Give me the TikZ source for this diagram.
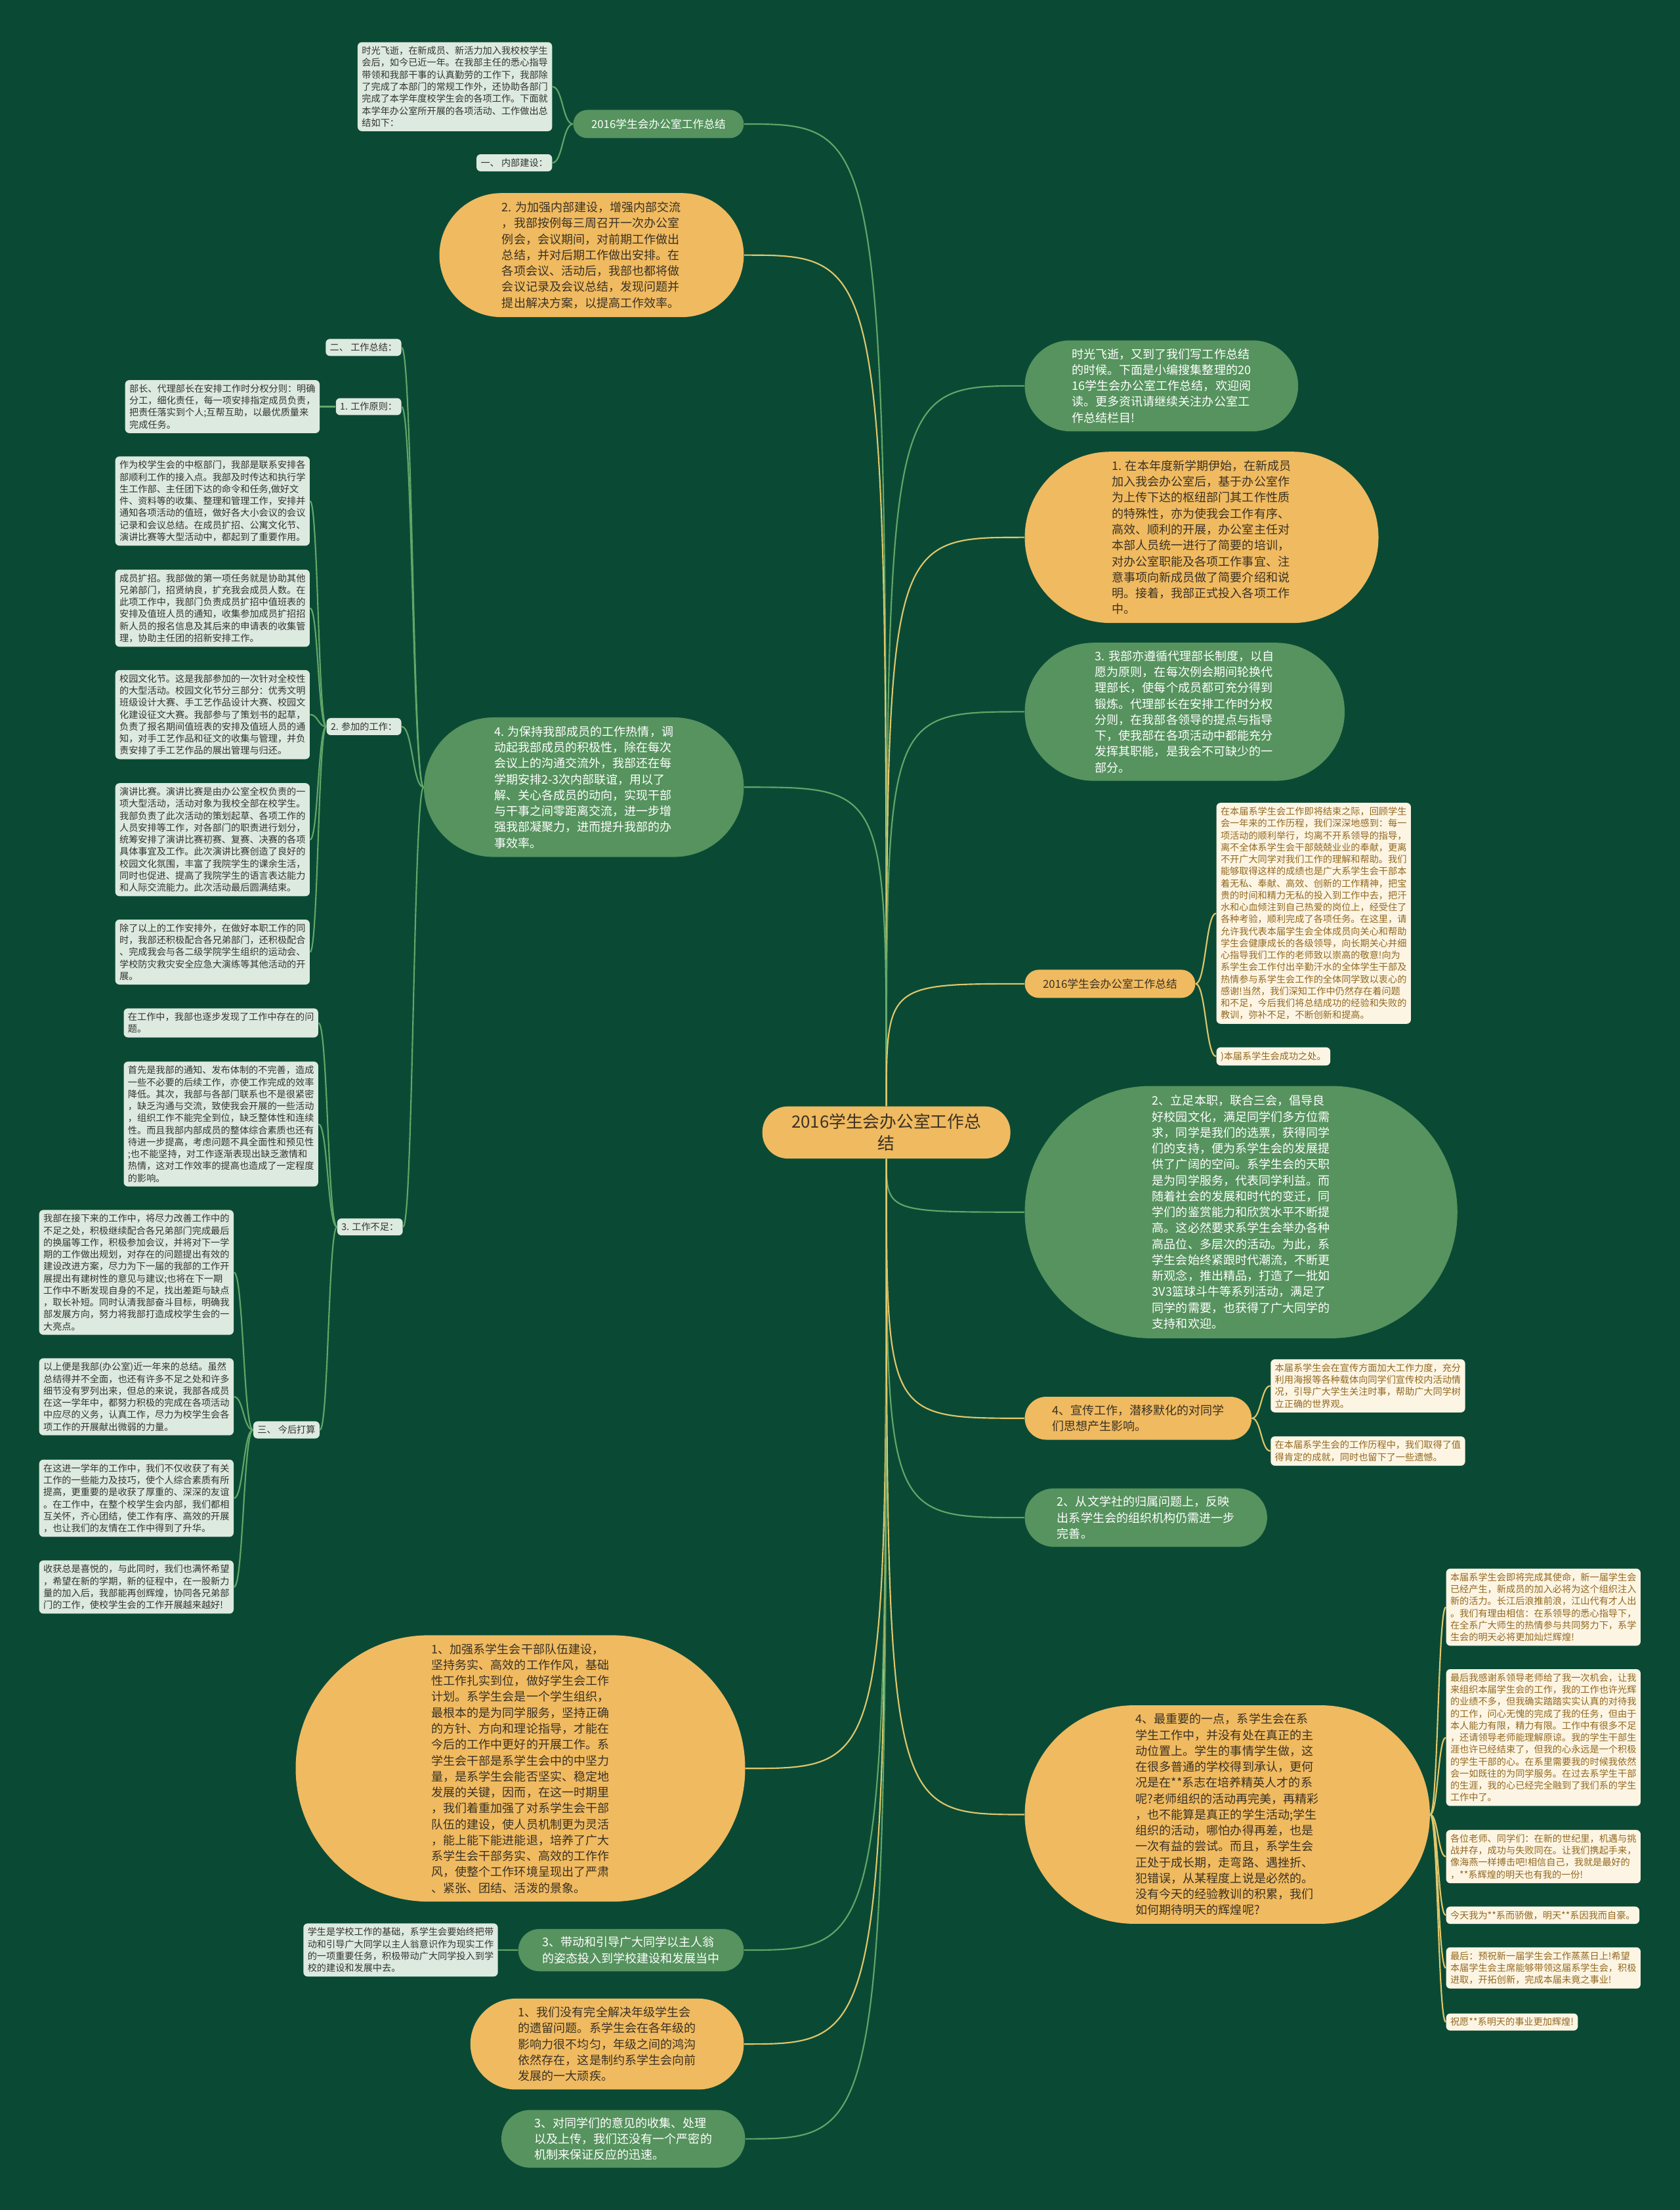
\documentclass[tikz,border=0pt]{standalone}
\usepackage{fontspec}
\setmainfont{Noto Sans CJK SC}
\usetikzlibrary{shapes.misc,calc}
\definecolor{bgcol}{RGB}{10,74,53}
\definecolor{nodeorange}{RGB}{240,186,96}
\definecolor{nodegreen}{RGB}{86,147,94}
\definecolor{orangetext}{RGB}{58,50,36}
\definecolor{mintfill}{RGB}{221,234,223}
\definecolor{minttext}{RGB}{51,51,51}
\definecolor{creamfill}{RGB}{253,245,228}
\definecolor{creamtext}{RGB}{146,104,32}
\definecolor{glinecol}{RGB}{98,166,104}
\definecolor{ylinecol}{RGB}{224,198,106}
\newcommand{\mmboxfont}{\fontsize{6.6pt}{8.5pt}\selectfont}
\newcommand{\mmbubblefont}{\fontsize{8.4pt}{11.3pt}\selectfont}
\newcommand{\mmtitlefont}{\fontsize{7.8pt}{10pt}\selectfont}
\newcommand{\mmrootfont}{\fontsize{12pt}{15.5pt}\selectfont}

\begin{document}
\begin{tikzpicture}[x=1pt, y=-1pt,
    bubble/.style={rounded rectangle, inner sep=1pt, align=left, font=\mmbubblefont},
    obubble/.style={bubble, fill=nodeorange, text=orangetext},
    gbubble/.style={bubble, fill=nodegreen, text=white},
    root/.style={rectangle, rounded corners=18pt, fill=nodeorange, text=orangetext,
        minimum width=176pt, minimum height=37pt, align=center, font=\mmrootfont},
    mintbox/.style={rectangle, rounded corners=3pt, fill=mintfill, text=minttext,
        inner sep=3pt, align=left, font=\mmboxfont},
    creambox/.style={mintbox, fill=creamfill, text=creamtext},
    gline/.style={draw=glinecol, line width=1pt},
    yline/.style={draw=ylinecol, line width=1pt},
    mainlink/.style={to path={let \p1=(\tikztostart), \p2=(\tikztotarget) in
        .. controls (\x1,\y2) .. (\tikztotarget)}},
    sublink/.style={to path={let \p1=(\tikztostart), \p2=(\tikztotarget) in
        .. controls ({0.5*\x1+0.5*\x2},\y1) and ({0.5*\x1+0.5*\x2},\y2) .. (\tikztotarget)}}
]
    \fill[bgcol] (0,0) rectangle (1192,1568);

    \node[root] (root) at (629,803.5) {2016学生会办公室工作总\\结};

    % left side
    \node[gbubble, font=\mmtitlefont, minimum width=123pt, minimum height=20pt, anchor=east] (ltitle) at (528,88) {2016学生会办公室工作总结};
    \node[mintbox, anchor=east] (lintro) at (392,61.5) {时光飞逝，在新成员、新活力加入我校校学生\\会后，如今已近一年。在我部主任的悉心指导\\带领和我部干事的认真勤劳的工作下，我部除\\了完成了本部门的常规工作外，还协助各部门\\完成了本学年度校学生会的各项工作。下面就\\本学年办公室所开展的各项活动、工作做出总\\结如下：};
    \node[mintbox, anchor=east] (linner) at (392,115.5) {一、 内部建设：};

    \node[obubble, minimum width=218pt, minimum height=88pt, anchor=east] (lmeet) at (528,181) {2. 为加强内部建设，增强内部交流\\，我部按例每三周召开一次办公室\\例会，会议期间，对前期工作做出\\总结，并对后期工作做出安排。在\\各项会议、活动后，我部也都将做\\会议记录及会议总结，发现问题并\\提出解决方案，以提高工作效率。};

    \node[gbubble, minimum width=229pt, minimum height=99pt, anchor=east] (lkeep) at (528,558.5) {4. 为保持我部成员的工作热情，调\\动起我部成员的积极性，除在每次\\会议上的沟通交流外，我部还在每\\学期安排2-3次内部联谊，用以了\\解、关心各成员的动向，实现干部\\与干事之间零距离交流，进一步增\\强我部凝聚力，进而提升我部的办\\事效率。};

    \node[mintbox, anchor=east] (lsum) at (285,246.5) {二、 工作总结：};
    \node[mintbox, anchor=east] (lprin) at (285,288.5) {1. 工作原则：};
    \node[mintbox, anchor=east] (lprintext) at (227,288.5) {部长、代理部长在安排工作时分权分则：明确\\分工，细化责任，每一项安排指定成员负责，\\把责任落实到个人;互帮互助，以最优质量来\\完成任务。};

    \node[mintbox, anchor=east] (ljoin) at (285,515.5) {2. 参加的工作：};
    \node[mintbox, anchor=east] (ljoina) at (220,355.5) {作为校学生会的中枢部门，我部是联系安排各\\部顺利工作的接入点。我部及时传达和执行学\\生工作部、主任团下达的命令和任务,做好文\\件、资料等的收集、整理和管理工作，安排并\\通知各项活动的值班，做好各大小会议的会议\\记录和会议总结。在成员扩招、公寓文化节、\\演讲比赛等大型活动中，都起到了重要作用。};
    \node[mintbox, anchor=east] (ljoinb) at (220,431.5) {成员扩招。我部做的第一项任务就是协助其他\\兄弟部门，招贤纳良，扩充我会成员人数。在\\此项工作中，我部门负责成员扩招中值班表的\\安排及值班人员的通知，收集参加成员扩招招\\新人员的报名信息及其后来的申请表的收集管\\理，协助主任团的招新安排工作。};
    \node[mintbox, anchor=east] (ljoinc) at (220,507) {校园文化节。这是我部参加的一次针对全校性\\的大型活动。校园文化节分三部分：优秀文明\\班级设计大赛、手工艺作品设计大赛、校园文\\化建设征文大赛。我部参与了策划书的起草，\\负责了报名期间值班表的安排及值班人员的通\\知，对手工艺作品和征文的收集与管理，并负\\责安排了手工艺作品的展出管理与归还。};
    \node[mintbox, anchor=east] (ljoind) at (220,595.75) {演讲比赛。演讲比赛是由办公室全权负责的一\\项大型活动，活动对象为我校全部在校学生。\\我部负责了此次活动的策划起草、各项工作的\\人员安排等工作，对各部门的职责进行划分，\\统筹安排了演讲比赛初赛、复赛、决赛的各项\\具体事宜及工作。此次演讲比赛创造了良好的\\校园文化氛围，丰富了我院学生的课余生活，\\同时也促进、提高了我院学生的语言表达能力\\和人际交流能力。此次活动最后圆满结束。};
    \node[mintbox, anchor=east] (ljoine) at (220,675.5) {除了以上的工作安排外，在做好本职工作的同\\时，我部还积极配合各兄弟部门，还积极配合\\、完成我会与各二级学院学生组织的运动会、\\学校防灾救灾安全应急大演练等其他活动的开\\展。};

    \node[mintbox, anchor=east] (lshort) at (286,870.5) {3. 工作不足：};
    \node[mintbox, anchor=east] (lshorta) at (226,725.75) {在工作中，我部也逐步发现了工作中存在的问\\题。};
    \node[mintbox, anchor=east] (lshortb) at (226,797.5) {首先是我部的通知、发布体制的不完善，造成\\一些不必要的后续工作，亦使工作完成的效率\\降低。其次，我部与各部门联系也不是很紧密\\，缺乏沟通与交流，致使我会开展的一些活动\\，组织工作不能完全到位，缺乏整体性和连续\\性。而且我部内部成员的整体综合素质也还有\\待进一步提高，考虑问题不具全面性和预见性\\;也不能坚持，对工作逐渐表现出缺乏激情和\\热情，这对工作效率的提高也造成了一定程度\\的影响。};
    \node[mintbox, anchor=east] (lplan) at (227,1014.5) {三、 今后打算};
    \node[mintbox, anchor=east] (lplana) at (166,902.75) {我部在接下来的工作中，将尽力改善工作中的\\不足之处，积极继续配合各兄弟部门完成最后\\的换届等工作，积极参加会议，并将对下一学\\期的工作做出规划，对存在的问题提出有效的\\建设改进方案，尽力为下一届的我部的工作开\\展提出有建树性的意见与建议;也将在下一期\\工作中不断发现自身的不足，找出差距与缺点\\，取长补短。同时认清我部奋斗目标，明确我\\部发展方向，努力将我部打造成校学生会的一\\大亮点。};
    \node[mintbox, anchor=east] (lplanb) at (166,991) {以上便是我部(办公室)近一年来的总结。虽然\\总结得并不全面，也还有许多不足之处和许多\\细节没有罗列出来，但总的来说，我部各成员\\在这一学年中，都努力积极的完成在各项活动\\中应尽的义务，认真工作，尽力为校学生会各\\项工作的开展献出微弱的力量。};
    \node[mintbox, anchor=east] (lplanc) at (166,1063) {在这进一学年的工作中，我们不仅收获了有关\\工作的一些能力及技巧，使个人综合素质有所\\提高，更重要的是收获了厚重的、深深的友谊\\。在工作中，在整个校学生会内部，我们都相\\互关怀，齐心团结，使工作有序、高效的开展\\，也让我们的友情在工作中得到了升华。};
    \node[mintbox, anchor=east] (lpland) at (166,1126) {收获总是喜悦的，与此同时，我们也满怀希望\\，希望在新的学期，新的征程中，在一股新力\\量的加入后，我部能再创辉煌，协同各兄弟部\\门的工作，使校学生会的工作开展越来越好!};

    \node[obubble, minimum width=321pt, minimum height=189pt, anchor=east] (lteam) at (529,1254.7) {1、加强系学生会干部队伍建设，\\坚持务实、高效的工作作风，基础\\性工作扎实到位，做好学生会工作\\计划。系学生会是一个学生组织，\\最根本的是为同学服务，坚持正确\\的方针、方向和理论指导，才能在\\今后的工作中更好的开展工作。系\\学生会干部是系学生会中的中坚力\\量，是系学生会能否坚实、稳定地\\发展的关键，因而，在这一时期里\\，我们着重加强了对系学生会干部\\队伍的建设，使人员机制更为灵活\\，能上能下能进能退，培养了广大\\系学生会干部务实、高效的工作作\\风，使整个工作环境呈现出了严肃\\、紧张、团结、活泼的景象。};
    \node[gbubble, minimum width=162pt, minimum height=30pt, anchor=east] (llead) at (528,1383.6) {3、带动和引导广大同学以主人翁\\的姿态投入到学校建设和发展当中};
    \node[mintbox, anchor=east] (lleadtext) at (353.5,1383.5) {学生是学校工作的基础，系学生会要始终把带\\动和引导广大同学以主人翁意识作为现实工作\\的一项重要任务，积极带动广大同学投入到学\\校的建设和发展中去。};
    \node[obubble, minimum width=196pt, minimum height=64.5pt, anchor=east] (lgrade) at (528,1450.25) {1、我们没有完全解决年级学生会\\的遗留问题。系学生会在各年级的\\影响力很不均匀，年级之间的鸿沟\\依然存在，这是制约系学生会向前\\发展的一大顽疾。};
    \node[gbubble, minimum width=175pt, minimum height=41pt, anchor=east] (lopinion) at (529,1517.5) {3、对同学们的意见的收集、处理\\以及上传，我们还没有一个严密的\\机制来保证反应的迅速。};

    % right side
    \node[gbubble, minimum width=196pt, minimum height=64.5pt, anchor=west] (rintro) at (727,273.75) {时光飞逝，又到了我们写工作总结\\的时候。下面是小编搜集整理的20\\16学生会办公室工作总结，欢迎阅\\读。更多资讯请继续关注办公室工\\作总结栏目!};
    \node[obubble, minimum width=253pt, minimum height=121.5pt, anchor=west] (rtrain) at (727,381.25) {1. 在本年度新学期伊始，在新成员\\加入我会办公室后，基于办公室作\\为上传下达的枢纽部门其工作性质\\的特殊性，亦为使我会工作有序、\\高效、顺利的开展，办公室主任对\\本部人员统一进行了简要的培训，\\对办公室职能及各项工作事宜、注\\意事项向新成员做了简要介绍和说\\明。接着，我部正式投入各项工作\\中。};
    \node[gbubble, minimum width=229pt, minimum height=98pt, anchor=west] (rdeputy) at (727,505) {3. 我部亦遵循代理部长制度，以自\\愿为原则，在每次例会期间轮换代\\理部长，使每个成员都可充分得到\\锻炼。代理部长在安排工作时分权\\分则，在我部各领导的提点与指导\\下，使我部在各项活动中都能充分\\发挥其职能，是我会不可缺少的一\\部分。};

    \node[obubble, font=\mmtitlefont, minimum width=123pt, minimum height=20pt, anchor=west] (rtitle) at (727,698) {2016学生会办公室工作总结};
    \node[creambox, anchor=west] (rtitlea) at (863,648) {在本届系学生会工作即将结束之际，回顾学生\\会一年来的工作历程，我们深深地感到：每一\\项活动的顺利举行，均离不开系领导的指导，\\离不全体系学生会干部兢兢业业的奉献，更离\\不开广大同学对我们工作的理解和帮助。我们\\能够取得这样的成绩也是广大系学生会干部本\\着无私、奉献、高效、创新的工作精神，把宝\\贵的时间和精力无私的投入到工作中去，把汗\\水和心血倾注到自己热爱的岗位上，经受住了\\各种考验，顺利完成了各项任务。在这里，请\\允许我代表本届学生会全体成员向关心和帮助\\学生会健康成长的各级领导，向长期关心并细\\心指导我们工作的老师致以崇高的敬意!向为\\系学生会工作付出辛勤汗水的全体学生干部及\\热情参与系学生会工作的全体同学致以衷心的\\感谢!当然，我们深知工作中仍然存在着问题\\和不足，今后我们将总结成功的经验和失败的\\教训，弥补不足，不断创新和提高。};
    \node[creambox, anchor=west] (rtitleb) at (863,749.5) {)本届系学生会成功之处。};

    \node[gbubble, minimum width=309pt, minimum height=179pt, anchor=west] (rserve) at (727,860) {2、立足本职，联合三会，倡导良\\好校园文化，满足同学们多方位需\\求，同学是我们的选票，获得同学\\们的支持，便为系学生会的发展提\\供了广阔的空间。系学生会的天职\\是为同学服务，代表同学利益。而\\随着社会的发展和时代的变迁，同\\学们的鉴赏能力和欣赏水平不断提\\高。这必然要求系学生会举办各种\\高品位、多层次的活动。为此，系\\学生会始终紧跟时代潮流，不断更\\新观念，推出精品，打造了一批如\\3V3篮球斗牛等系列活动，满足了\\同学的需要，也获得了广大同学的\\支持和欢迎。};

    \node[obubble, minimum width=163pt, minimum height=30.5pt, anchor=west] (rpromo) at (727,1006.25) {4、宣传工作，潜移默化的对同学\\们思想产生影响。};
    \node[creambox, anchor=west] (rpromoa) at (901.5,983.25) {本届系学生会在宣传方面加大工作力度，充分\\利用海报等各种载体向同学们宣传校内活动情\\况，引导广大学生关注时事，帮助广大同学树\\立正确的世界观。};
    \node[creambox, anchor=west] (rpromob) at (901.5,1029.5) {在本届系学生会的工作历程中，我们取得了值\\得肯定的成就，同时也留下了一些遗憾。};

    \node[gbubble, minimum width=174pt, minimum height=41.5pt, anchor=west] (rclub) at (727,1076.75) {2、从文学社的归属问题上，反映\\出系学生会的组织机构仍需进一步\\完善。};

    \node[obubble, minimum width=289.5pt, minimum height=155pt, anchor=west] (rmain) at (727,1287.4) {4、最重要的一点，系学生会在系\\学生工作中，并没有处在真正的主\\动位置上。学生的事情学生做，这\\在很多普通的学校得到承认，更何\\况是在**系志在培养精英人才的系\\呢?老师组织的活动再完美，再精彩\\，也不能算是真正的学生活动;学生\\组织的活动，哪怕办得再差，也是\\一次有益的尝试。而且，系学生会\\正处于成长期，走弯路、遇挫折、\\犯错误，从某程度上说是必然的。\\没有今天的经验教训的积累，我们\\如何期待明天的辉煌呢?};
    \node[creambox, anchor=west] (rmaina) at (1026,1140.3) {本届系学生会即将完成其使命，新一届学生会\\已经产生，新成员的加入必将为这个组织注入\\新的活力。长江后浪推前浪，江山代有才人出\\。我们有理由相信：在系领导的悉心指导下，\\在全系广大师生的热情参与共同努力下，系学\\生会的明天必将更加灿烂辉煌!};
    \node[creambox, anchor=west] (rmainb) at (1026,1232.8) {最后我感谢系领导老师给了我一次机会，让我\\来组织本届学生会的工作，我的工作也许光辉\\的业绩不多，但我确实踏踏实实认真的对待我\\的工作，问心无愧的完成了我的任务，但由于\\本人能力有限，精力有限。工作中有很多不足\\，还请领导老师能理解原谅。我的学生干部生\\涯也许已经结束了，但我的心永远是一个积极\\的学生干部的心。在系里需要我的时候我依然\\会一如既往的为同学服务。在过去系学生干部\\的生涯，我的心已经完全融到了我们系的学生\\工作中了。};
    \node[creambox, anchor=west] (rmainc) at (1026,1317.25) {各位老师、同学们：在新的世纪里，机遇与挑\\战并存，成功与失败同在。让我们携起手来，\\像海燕一样搏击吧!相信自己，我就是最好的\\，**系辉煌的明天也有我的一份!};
    \node[creambox, anchor=west] (rmaind) at (1026,1358.85) {今天我为**系而骄傲，明天**系因我而自豪。};
    \node[creambox, anchor=west] (rmaine) at (1026,1396.25) {最后：预祝新一届学生会工作蒸蒸日上!希望\\本届学生会主席能够带领这届系学生会，积极\\进取，开拓创新，完成本届未竟之事业!};
    \node[creambox, anchor=west] (rmainf) at (1026,1434.6) {祝愿**系明天的事业更加辉煌!};

    % links from the root
    \draw[gline] (root.north) to[mainlink] (ltitle.east);
    \draw[yline] (root.north) to[mainlink] (lmeet.east);
    \draw[gline] (root.north) to[mainlink] (lkeep.east);
    \draw[yline] (root.south) to[mainlink] (lteam.east);
    \draw[gline] (root.south) to[mainlink] (llead.east);
    \draw[yline] (root.south) to[mainlink] (lgrade.east);
    \draw[gline] (root.south) to[mainlink] (lopinion.east);
    \draw[gline] (root.north) to[mainlink] (rintro.west);
    \draw[yline] (root.north) to[mainlink] (rtrain.west);
    \draw[gline] (root.north) to[mainlink] (rdeputy.west);
    \draw[yline] (root.north) to[mainlink] (rtitle.west);
    \draw[gline] (root.south) to[mainlink] (rserve.west);
    \draw[yline] (root.south) to[mainlink] (rpromo.west);
    \draw[gline] (root.south) to[mainlink] (rclub.west);
    \draw[yline] (root.south) to[mainlink] (rmain.west);

    % links to the leaves
    \draw[gline] (ltitle.west) to[sublink] (lintro.east);
    \draw[gline] (ltitle.west) to[sublink] (linner.east);
    \draw[gline] (lkeep.west) to[sublink] (lsum.east);
    \draw[gline] (lkeep.west) to[sublink] (lprin.east);
    \draw[gline] (lkeep.west) to[sublink] (ljoin.east);
    \draw[gline] (lkeep.west) to[sublink] (lshort.east);
    \draw[gline] (lprin.west) to[sublink] (lprintext.east);
    \draw[gline] (ljoin.west) to[sublink] (ljoina.east);
    \draw[gline] (ljoin.west) to[sublink] (ljoinb.east);
    \draw[gline] (ljoin.west) to[sublink] (ljoinc.east);
    \draw[gline] (ljoin.west) to[sublink] (ljoind.east);
    \draw[gline] (ljoin.west) to[sublink] (ljoine.east);
    \draw[gline] (lshort.west) to[sublink] (lshorta.east);
    \draw[gline] (lshort.west) to[sublink] (lshortb.east);
    \draw[gline] (lshort.west) to[sublink] (lplan.east);
    \draw[gline] (lplan.west) to[sublink] (lplana.east);
    \draw[gline] (lplan.west) to[sublink] (lplanb.east);
    \draw[gline] (lplan.west) to[sublink] (lplanc.east);
    \draw[gline] (lplan.west) to[sublink] (lpland.east);
    \draw[gline] (llead.west) to[sublink] (lleadtext.east);
    \draw[yline] (rtitle.east) to[sublink] (rtitlea.west);
    \draw[yline] (rtitle.east) to[sublink] (rtitleb.west);
    \draw[yline] (rpromo.east) to[sublink] (rpromoa.west);
    \draw[yline] (rpromo.east) to[sublink] (rpromob.west);
    \draw[yline] (rmain.east) to[sublink] (rmaina.west);
    \draw[yline] (rmain.east) to[sublink] (rmainb.west);
    \draw[yline] (rmain.east) to[sublink] (rmainc.west);
    \draw[yline] (rmain.east) to[sublink] (rmaind.west);
    \draw[yline] (rmain.east) to[sublink] (rmaine.west);
    \draw[yline] (rmain.east) to[sublink] (rmainf.west);
\end{tikzpicture}
\end{document}
